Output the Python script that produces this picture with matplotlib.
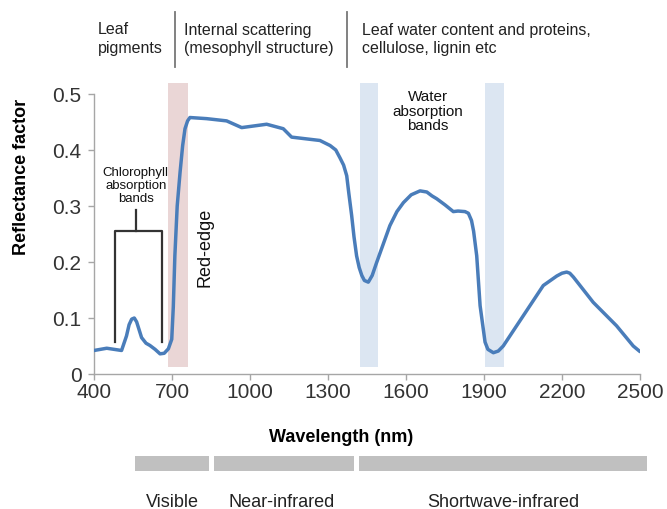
import numpy as np
import matplotlib.pyplot as plt
from matplotlib.patches import Rectangle
from matplotlib.transforms import blended_transform_factory

plt.rcParams.update({
    'font.family': ['Liberation Sans', 'DejaVu Sans'],
    'axes.spines.top': False,
    'axes.spines.right': False,
})

# vegetation reflectance spectrum
wavelength = [400, 449, 506, 525, 535, 545, 555, 564, 583, 600, 615, 635, 654, 670,
              686, 699, 705, 711, 720, 731, 741, 750, 760, 769, 833, 910, 968, 1064,
              1128, 1160, 1269, 1308, 1330, 1346, 1360, 1372, 1380, 1391, 1400, 1410,
              1420, 1430, 1440, 1455, 1470, 1487, 1538, 1565, 1590, 1620, 1654, 1680,
              1700, 1718, 1750, 1782, 1800, 1827, 1840, 1852, 1860, 1872, 1885, 1904,
              1915, 1936, 1955, 1974, 2051, 2128, 2180, 2200, 2218, 2230, 2244, 2320,
              2410, 2474, 2500]
reflectance = [0.042, 0.046, 0.042, 0.068, 0.088, 0.098, 0.100, 0.093, 0.065, 0.055,
               0.051, 0.044, 0.036, 0.037, 0.045, 0.062, 0.120, 0.211, 0.300, 0.360,
               0.408, 0.438, 0.452, 0.458, 0.456, 0.452, 0.440, 0.446, 0.438, 0.423,
               0.417, 0.408, 0.400, 0.386, 0.373, 0.354, 0.323, 0.283, 0.245, 0.211,
               0.190, 0.176, 0.167, 0.164, 0.176, 0.199, 0.265, 0.290, 0.306, 0.320,
               0.327, 0.325, 0.318, 0.313, 0.302, 0.290, 0.291, 0.290, 0.287, 0.274,
               0.255, 0.211, 0.122, 0.057, 0.044, 0.038, 0.041, 0.050, 0.104, 0.158,
               0.175, 0.180, 0.182, 0.180, 0.173, 0.128, 0.086, 0.050, 0.040]

red_edge_band = (686, 763)
water_bands = [(1423, 1494), (1904, 1976)]
band_y = (0.0125, 0.52)

# chlorophyll bracket: left leg, right leg, stem (nm)
chl_bracket = (481, 660, 561)

# header categories and their left edges (nm), separators between them
header_labels = ['Leaf\npigments', 'Internal scattering\n(mesophyll structure)',
                 'Leaf water content and proteins,\ncellulose, lignin etc']
header_x = [415, 746, 1431]
header_sep = [711, 1373]

# spectral regions shown as bars under the axis
region_labels = ['Visible', 'Near-infrared', 'Shortwave-infrared']
region_spans = [(556, 842), (862, 1400), (1419, 2528)]
region_text_x = [700, 1120, 1973]

xticks = [400, 700, 1000, 1300, 1600, 1900, 2200, 2500]
yticks = [0, 0.1, 0.2, 0.3, 0.4, 0.5]

LINE = '#4a7dba'
DARK = '#333333'
GRID = '#a6a6a6'

fig = plt.figure(figsize=(6.67, 5.10), dpi=100)
ax = fig.add_axes([94 / 667, 135 / 510, 546 / 667, 280 / 510])

# shaded bands
ax.add_patch(Rectangle((red_edge_band[0], band_y[0]), red_edge_band[1] - red_edge_band[0],
                       band_y[1] - band_y[0], color='#ead6d6', lw=0, clip_on=False, zorder=1))
for lo, hi in water_bands:
    ax.add_patch(Rectangle((lo, band_y[0]), hi - lo, band_y[1] - band_y[0],
                           color='#dce6f2', lw=0, clip_on=False, zorder=1))

ax.plot(wavelength, reflectance, color=LINE, lw=2.5, solid_capstyle='round',
        solid_joinstyle='round', zorder=3)

ax.set_xlim(400, 2500)
ax.set_ylim(0, 0.5)
ax.set_xticks(xticks)
ax.set_yticks(yticks)
ax.set_yticklabels([f'{v:g}' for v in yticks])
ax.tick_params(axis='both', labelsize=15, colors=GRID, labelcolor=DARK,
               length=4, width=1, direction='out')
ax.tick_params(axis='y', pad=5)
ax.tick_params(axis='x', pad=2)
for s in ['left', 'bottom']:
    ax.spines[s].set_color(GRID)
    ax.spines[s].set_linewidth(1)

ax.set_ylabel('Reflectance factor', fontsize=13, fontweight='bold', color='black')
ax.yaxis.set_label_coords(-0.118, 0.707)
ax.set_xlabel('Wavelength (nm)', fontsize=13, fontweight='bold', color='black')
ax.xaxis.set_label_coords(0.452, -0.192)

# chlorophyll bracket + label
l, r, m = chl_bracket
ax.plot([l, l, r, r], [0.0565, 0.256, 0.256, 0.0565], color=DARK, lw=1.6, zorder=4)
ax.plot([m, m], [0.256, 0.292], color=DARK, lw=1.6, zorder=4)
ax.text(m, 0.3375, 'Chlorophyll\nabsorption\nbands', fontsize=9.5, ha='center',
        va='center', linespacing=1.15, color='#111111')

ax.text(827, 0.228, 'Red-edge', fontsize=13, rotation=90, ha='center', va='center',
        color='#111111')
ax.text(1685, 0.4705, 'Water\nabsorption\nbands', fontsize=11, ha='center', va='center',
        linespacing=1.05, color='#111111')

# header texts above the plot
tr = blended_transform_factory(ax.transData, ax.transAxes)
for x, lab in zip(header_x, header_labels):
    ax.text(x, 1.200, lab, transform=tr, fontsize=11.5, ha='left', va='center',
            linespacing=1.25, color='#222222', clip_on=False)
for x in header_sep:
    ax.plot([x, x], [1.096, 1.293], transform=tr, color='#777777', lw=1.3, clip_on=False)

# spectral region bars below
for lo, hi in region_spans:
    ax.add_patch(Rectangle((lo, -0.348), hi - lo, 0.056, transform=tr, color='#c0c0c0',
                           lw=0, clip_on=False))
for lab, tx in zip(region_labels, region_text_x):
    ax.text(tx, -0.457, lab, transform=tr, fontsize=13, ha='center', va='center',
            color='#222222', clip_on=False)

fig.savefig('out.png', dpi=100)
